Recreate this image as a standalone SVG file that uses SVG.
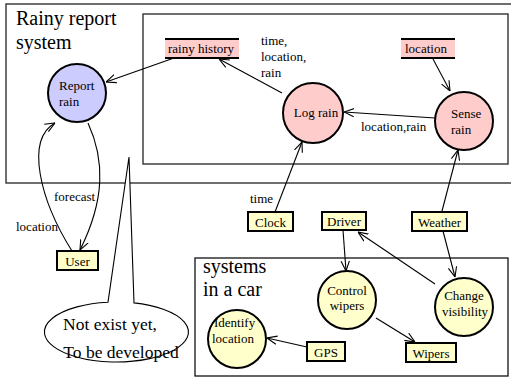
<svg xmlns="http://www.w3.org/2000/svg" width="511" height="378" viewBox="0 0 511 378" font-family="'Liberation Serif', 'DejaVu Serif', serif">
<style>
.t{font-size:13px}
.big{font-size:20px}
.proc{stroke:#000;stroke-width:2}
.blue{fill:#ccccff}
.pink{fill:#ffcccc}
.yel{fill:#ffffcc}
.box{fill:#ffffcc;stroke:#000;stroke-width:2}
.store{stroke:#000;stroke-width:2}
.cont{fill:none;stroke:#333;stroke-width:1.4}
.c{fill:none;stroke:#000;stroke-width:1.1;marker-end:url(#arr)}
.m{text-anchor:middle}
</style>
<defs>
<marker id="arr" viewBox="0 0 10 10" refX="10" refY="5" markerWidth="10" markerHeight="10" markerUnits="userSpaceOnUse" orient="auto">
<path d="M0,0.8 L10,5 L0,9.2" fill="none" stroke="#000" stroke-width="1.1"/>
</marker>
</defs>
<rect id="outer" x="6" y="4" width="515" height="179" fill="#fff" class="cont"/>
<text class="big" x="16" y="25" font-family="Liberation Serif, serif">Rainy report</text>
<text class="big" x="16" y="49" font-family="Liberation Serif, serif">system</text>
<rect id="inner" x="143" y="14" width="365" height="150" class="cont"/>
<rect id="car" x="195" y="258" width="313" height="118" fill="#fff" stroke="#111" stroke-width="1.3"/>
<text class="big" x="203" y="273">systems</text>
<text class="big" x="203" y="296">in a car</text>

<g id="connectors">
<line class="c" x1="174" y1="58" x2="106" y2="82"/>
<line class="c" x1="282" y1="93" x2="219" y2="59"/>
<line class="c" x1="433" y1="59" x2="450" y2="91"/>
<line class="c" x1="435" y1="118" x2="344" y2="112"/>
<line class="c" x1="275" y1="212" x2="302" y2="142"/>
<line class="c" x1="442" y1="211" x2="458" y2="150"/>
<path class="c" d="M72,251 C40,200 25,140 55,123"/>
<path class="c" d="M88,123 C105,160 105,200 80,250"/>
<line class="c" x1="343" y1="230" x2="346" y2="271"/>
<line class="c" x1="435" y1="284" x2="358" y2="232"/>
<line class="c" x1="443" y1="231" x2="455" y2="277"/>
<line class="c" x1="376" y1="318" x2="415" y2="342"/>
<line class="c" x1="307" y1="347" x2="267" y2="338"/>
<text class="t" x="261" y="45">time,</text>
<text class="t" x="261" y="61">location,</text>
<text class="t" x="261" y="77">rain</text>
<text class="t" x="361" y="131">location,rain</text>
<text class="t" x="250" y="203">time</text>
<text class="t" x="54" y="201">forecast</text>
<text class="t" x="16" y="231">location</text>
</g>

<g id="report-rain">
<circle cx="77" cy="93" r="29" class="proc blue"/>
<text class="t" x="59" y="90">Report</text>
<text class="t" x="59" y="106">rain</text>
</g>
<g id="rainy-history">
<rect x="165" y="39" width="74" height="19" class="pink"/>
<line x1="165" y1="39" x2="239" y2="39" class="store"/>
<line x1="165" y1="58" x2="239" y2="58" class="store"/>
<text class="t" x="168" y="53">rainy history</text>
</g>
<g id="log-rain">
<circle cx="313" cy="113" r="30" class="proc pink"/>
<text class="t m" x="316" y="117">Log rain</text>
</g>
<g id="location-store">
<rect x="401" y="39" width="54" height="19" class="pink"/>
<line x1="401" y1="39" x2="455" y2="39" class="store"/>
<line x1="401" y1="58" x2="455" y2="58" class="store"/>
<text class="t" x="405" y="53">location</text>
</g>
<g id="sense-rain">
<circle cx="464" cy="121" r="29" class="proc pink"/>
<text class="t" x="451" y="118">Sense</text>
<text class="t" x="451" y="134">rain</text>
</g>
<g id="user">
<rect x="57" y="251" width="41" height="19" class="box"/>
<text class="t m" x="77.5" y="265.5">User</text>
</g>
<g id="clock">
<rect x="248" y="212" width="45" height="19" class="box"/>
<text class="t m" x="270.5" y="226.5">Clock</text>
</g>
<g id="driver">
<rect x="322" y="212" width="44" height="18" class="box"/>
<text class="t m" x="344" y="226">Driver</text>
</g>
<g id="weather">
<rect x="412" y="212" width="55" height="19" class="box"/>
<text class="t m" x="439.5" y="226.5">Weather</text>
</g>
<g id="control-wipers">
<circle cx="347" cy="300" r="29" class="proc yel"/>
<text class="t m" x="347" y="295">Control</text>
<text class="t m" x="347" y="310">wipers</text>
</g>
<g id="change-visibility">
<circle cx="464" cy="307" r="29" class="proc yel"/>
<text class="t m" x="464" y="300">Change</text>
<text class="t m" x="465" y="316">visibility</text>
</g>
<g id="identify-location">
<circle cx="237" cy="339" r="29" class="proc yel"/>
<text class="t" x="214" y="327">Identify</text>
<text class="t" x="212" y="343">location</text>
</g>
<g id="gps">
<rect x="307" y="342" width="38" height="19" class="box"/>
<text class="t m" x="326" y="356.5">GPS</text>
</g>
<g id="wipers">
<rect x="406" y="343" width="50" height="19" class="box"/>
<text class="t m" x="431" y="357.5">Wipers</text>
</g>
<g id="callout">
<path d="M134,302.9 L129,157 L108,302.2 A72,30 0 1 0 134,302.9 Z" fill="#fff" stroke="#000" stroke-width="1.1"/>
<text x="110" y="330" font-size="17.5px" text-anchor="middle">Not exist yet,</text>
<text x="121" y="358" font-size="17.5px" text-anchor="middle">To be developed</text>
</g>
</svg>
